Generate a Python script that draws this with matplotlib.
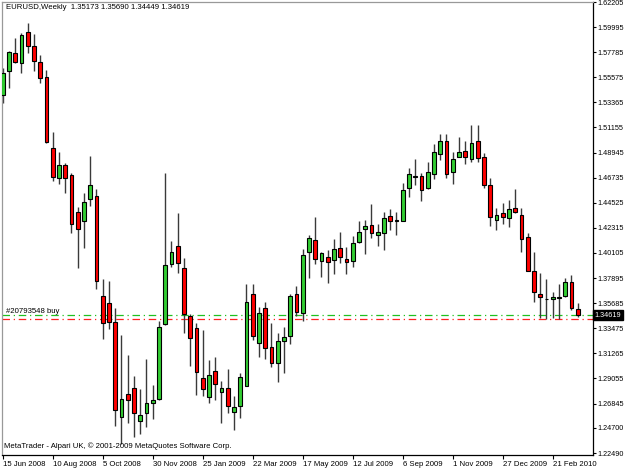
#EURUSD weekly candles - MetaTrader style chart
import matplotlib
matplotlib.use('Agg')
import matplotlib.pyplot as plt
import numpy as np

plt.rcParams['font.family'] = ['Liberation Sans', 'DejaVu Sans']

# weekly open / high / low / close, first bar = week of 15 Jun 2008
opens = [1.5402, 1.5616, 1.5774, 1.5686, 1.5956, 1.5833, 1.5690, 1.5563, 1.4938, 1.4673,
         1.4785, 1.4697, 1.4371, 1.4292, 1.4483, 1.4510, 1.3632, 1.3567, 1.3400, 1.2569,
         1.2769, 1.2819, 1.2533, 1.2599, 1.2687, 1.2722, 1.3385, 1.3913, 1.4072, 1.3881,
         1.3455, 1.3347, 1.2912, 1.2745, 1.2971, 1.2789, 1.2819, 1.2613, 1.2666, 1.2842,
         1.3647, 1.3215, 1.3523, 1.3185, 1.3039, 1.3238, 1.3279, 1.3649, 1.3479, 1.4022,
         1.4125, 1.3940, 1.3978, 1.3946, 1.4054, 1.3955, 1.3940, 1.4110, 1.4219, 1.4259,
         1.4171, 1.4184, 1.4336, 1.4295, 1.4295, 1.4583, 1.4682, 1.4688, 1.4583, 1.4709,
         1.4879, 1.4999, 1.4724, 1.4858, 1.4908, 1.4838, 1.4999, 1.4858, 1.4606, 1.4301,
         1.4365, 1.4316, 1.4407, 1.4345, 1.4149, 1.3854, 1.3649, 1.3605, 1.3603, 1.3617,
         1.3632, 1.3752, 1.35173]
highs = [1.5639, 1.5789, 1.5901, 1.5948, 1.6033, 1.5936, 1.5756, 1.5622, 1.5073, 1.4902,
         1.4800, 1.4712, 1.4418, 1.4541, 1.4867, 1.4574, 1.3779, 1.3764, 1.3523, 1.3288,
         1.3112, 1.2927, 1.2810, 1.3077, 1.2845, 1.3411, 1.4712, 1.4118, 1.4360, 1.3964,
         1.3473, 1.3391, 1.3332, 1.3068, 1.3097, 1.2883, 1.2989, 1.2754, 1.2956, 1.3735,
         1.3735, 1.3532, 1.3581, 1.3391, 1.3303, 1.3361, 1.3647, 1.3720, 1.4043, 1.4169,
         1.4330, 1.4022, 1.4037, 1.4131, 1.4195, 1.4066, 1.4163, 1.4289, 1.4301, 1.4442,
         1.4266, 1.4371, 1.4400, 1.4371, 1.4624, 1.4756, 1.4835, 1.4717, 1.4812, 1.4967,
         1.5055, 1.5058, 1.4902, 1.5034, 1.4997, 1.5135, 1.5135, 1.4893, 1.4673, 1.4409,
         1.4453, 1.4477, 1.4574, 1.4404, 1.4189, 1.4022, 1.3837, 1.3781, 1.3669, 1.3737,
         1.3793, 1.3819, 1.35690]
lows = [1.5331, 1.5463, 1.5683, 1.5598, 1.5774, 1.5616, 1.5505, 1.4982, 1.4647, 1.4618,
        1.4541, 1.4189, 1.3876, 1.4057, 1.4424, 1.3696, 1.3256, 1.3338, 1.2489, 1.2328,
        1.2516, 1.2387, 1.2416, 1.2475, 1.2548, 1.2716, 1.3376, 1.3890, 1.3831, 1.3308,
        1.3018, 1.2760, 1.2751, 1.2692, 1.2716, 1.2511, 1.2599, 1.2452, 1.2555, 1.2842,
        1.3244, 1.3097, 1.3077, 1.3009, 1.2877, 1.2956, 1.3206, 1.3458, 1.3411, 1.3787,
        1.3913, 1.3796, 1.3743, 1.3823, 1.3920, 1.3825, 1.3890, 1.4101, 1.3999, 1.4145,
        1.4075, 1.4037, 1.4213, 1.4169, 1.4295, 1.4506, 1.4609, 1.4471, 1.4571, 1.4662,
        1.4829, 1.4673, 1.4618, 1.4853, 1.4791, 1.4814, 1.4814, 1.4580, 1.4248, 1.4213,
        1.4266, 1.4242, 1.4360, 1.4016, 1.3854, 1.3576, 1.3435, 1.3429, 1.3435, 1.3426,
        1.3625, 1.3508, 1.34449]
closes = [1.5598, 1.5783, 1.5692, 1.5933, 1.5836, 1.5698, 1.5554, 1.4990, 1.4682, 1.4785,
          1.4668, 1.4263, 1.4224, 1.4457, 1.4609, 1.3764, 1.3396, 1.3405, 1.2628, 1.2725,
          1.2716, 1.2599, 1.2584, 1.2687, 1.2716, 1.3361, 1.3905, 1.4022, 1.3920, 1.3470,
          1.3259, 1.2965, 1.2810, 1.2933, 1.2854, 1.2824, 1.2663, 1.2651, 1.2921, 1.3576,
          1.3282, 1.3479, 1.3176, 1.3039, 1.3235, 1.3268, 1.3632, 1.3488, 1.3990, 1.4145,
          1.3957, 1.4008, 1.3928, 1.4045, 1.3972, 1.3928, 1.4096, 1.4198, 1.4245, 1.4184,
          1.4195, 1.4316, 1.4295, 1.4297, 1.4565, 1.4703, 1.4686, 1.4565, 1.4724, 1.4897,
          1.4997, 1.4709, 1.4841, 1.4897, 1.4853, 1.4976, 1.4844, 1.4606, 1.4330, 1.4342,
          1.4325, 1.4400, 1.4374, 1.4131, 1.3854, 1.3664, 1.3625, 1.3603, 1.3625, 1.3619,
          1.3758, 1.3523, 1.34619]

date_labels = ['15 Jun 2008', '10 Aug 2008', '5 Oct 2008', '30 Nov 2008', '25 Jan 2009',
               '22 Mar 2009', '17 May 2009', '12 Jul 2009', '6 Sep 2009', '1 Nov 2009',
               '27 Dec 2009', '21 Feb 2010']
price_ticks = [1.62205, 1.59995, 1.57785, 1.55575, 1.53365, 1.51155, 1.48945, 1.46735,
               1.44525, 1.42315, 1.40105, 1.37895, 1.35685, 1.33475, 1.31265, 1.29055,
               1.26845, 1.24700, 1.22490]
order_price = 1.3463
stop_price = 1.3427

o = np.array(opens); h = np.array(highs); l = np.array(lows); c = np.array(closes)
x = np.arange(len(o))
up = c >= o

fs = 5.6
fs_y = 5.2

fig = plt.figure(figsize=(6.25, 4.69), dpi=100)
ax = fig.add_axes([2/625, 14/469, 591/625, 453/469])

#mechas
ax.vlines(x, l, h, color='#3a3a3a', lw=1, zorder=2)
#cuerpos
ax.bar(x[up], c[up]-o[up], bottom=o[up], width=0.62, color='#32cd32', edgecolor='black', lw=0.8, zorder=3)
ax.bar(x[~up], o[~up]-c[~up], bottom=c[~up], width=0.62, color='#ff0000', edgecolor='black', lw=0.8, zorder=3)

#lineas de la orden
ax.axhline(order_price, color='#20c020', lw=0.9, ls=(0, (6, 3, 1, 3)), zorder=1)
ax.axhline(stop_price, color='#ff2020', lw=0.9, ls=(0, (6, 3, 1, 3)), zorder=1)

ax.set_xlim(-0.11, 94.45)
ax.set_ylim(1.22314, 1.62205)

ax.yaxis.tick_right()
ax.set_yticks(price_ticks)
ax.set_yticklabels(['%.5f' % p for p in price_ticks])
ax.set_xticks(np.arange(0, 89, 8))
ax.set_xticklabels(date_labels, ha='left')
ax.tick_params(axis='x', direction='out', length=3, width=0.8, labelsize=fs, pad=1.5)
ax.tick_params(axis='y', direction='out', length=2, width=0.8, labelsize=fs_y, pad=1)

ax.spines['left'].set_color('#999999')
ax.spines['top'].set_color('#999999')
ax.spines['right'].set_color('black')
ax.spines['bottom'].set_color('black')
for s in ax.spines.values():
    s.set_linewidth(0.9)

ax.text(0.006, 0.987, 'EURUSD,Weekly  %.5f %.5f %.5f %.5f' % (opens[-1], highs[-1], lows[-1], closes[-1]),
        transform=ax.transAxes, fontsize=fs, va='center', ha='left')
ax.text(0.5, order_price + 0.0003, '#20793548 buy', fontsize=fs, va='bottom', ha='left')
ax.text(0.004, 0.02, 'MetaTrader - Alpari UK, \u00a9 2001-2009 MetaQuotes Software Corp.',
        transform=ax.transAxes, fontsize=fs, va='center', ha='left')
ax.text(1.003, closes[-1], '%.5f' % closes[-1], transform=ax.get_yaxis_transform(),
        fontsize=fs_y, color='white', va='center', ha='left',
        bbox=dict(facecolor='black', edgecolor='black', pad=1))

plt.savefig('out.png', dpi=100)
